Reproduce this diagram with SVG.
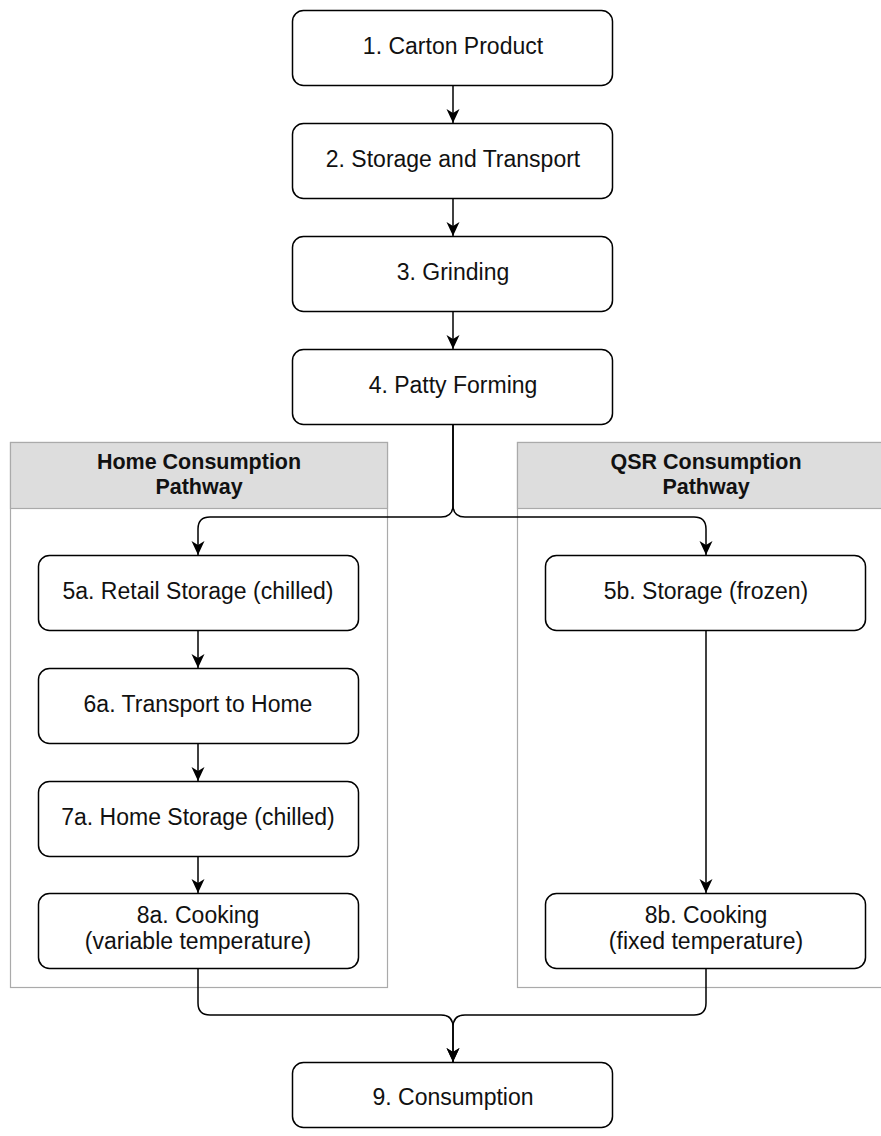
<svg xmlns="http://www.w3.org/2000/svg" width="881" height="1136" viewBox="0 0 881 1136">
<style>
.box{fill:#fff;stroke:#000;stroke-width:1.5}
.pool{fill:#fff;stroke:#aaa;stroke-width:1.2}
.hdr{fill:#dddddd;stroke:#aaa;stroke-width:1.2}
.t{font-family:"Liberation Sans",Arial,sans-serif;font-size:23px;fill:#111;text-anchor:middle}
.h{font-family:"Liberation Sans",Arial,sans-serif;font-size:21.5px;font-weight:bold;fill:#111;text-anchor:middle}
.c{fill:none;stroke:#000;stroke-width:1.5}
</style>
<defs>
<marker id="arr" markerUnits="userSpaceOnUse" markerWidth="16" markerHeight="16" viewBox="0 0 16 16" refX="14" refY="8" orient="auto">
<path d="M0,1.5 L14,8 L0,14.5 L4,8 z" fill="#000"/>
</marker>
</defs>
<g id="pool-home">
<rect class="pool" x="10.5" y="442.5" width="377" height="545"/>
<rect class="hdr" x="10.5" y="442.5" width="377" height="66"/>
<text class="h" x="199" y="469">Home Consumption</text>
<text class="h" x="199" y="494">Pathway</text>
</g>
<g id="pool-qsr">
<rect class="pool" x="517.5" y="442.5" width="380" height="545"/>
<rect class="hdr" x="517.5" y="442.5" width="380" height="66"/>
<text class="h" x="706" y="469">QSR Consumption</text>
<text class="h" x="706" y="494">Pathway</text>
</g>
<g id="connectors">
<path class="c" d="M453,85 L453,123" marker-end="url(#arr)"/>
<path class="c" d="M453,198 L453,236" marker-end="url(#arr)"/>
<path class="c" d="M453,311 L453,349" marker-end="url(#arr)"/>
<path class="c" d="M453,424 L453,505 Q453,517 441,517 L210,517 Q198,517 198,529 L198,555" marker-end="url(#arr)"/>
<path class="c" d="M453,424 L453,505 Q453,517 465,517 L694,517 Q706,517 706,529 L706,555" marker-end="url(#arr)"/>
<path class="c" d="M198,631 L198,668" marker-end="url(#arr)"/>
<path class="c" d="M198,744 L198,781" marker-end="url(#arr)"/>
<path class="c" d="M198,857 L198,893" marker-end="url(#arr)"/>
<path class="c" d="M706,631 L706,893" marker-end="url(#arr)"/>
<path class="c" d="M198,969 L198,1003 Q198,1015 210,1015 L441,1015 Q453,1015 453,1027 L453,1062" marker-end="url(#arr)"/>
<path class="c" d="M706,969 L706,1003 Q706,1015 694,1015 L465,1015 Q453,1015 453,1027 L453,1062" marker-end="url(#arr)"/>
</g>
<g id="n1"><rect class="box" x="292.5" y="10.5" width="320" height="75" rx="11"/><text class="t" x="453" y="54">1. Carton Product</text></g>
<g id="n2"><rect class="box" x="292.5" y="123.5" width="320" height="75" rx="11"/><text class="t" x="453" y="167">2. Storage and Transport</text></g>
<g id="n3"><rect class="box" x="292.5" y="236.5" width="320" height="75" rx="11"/><text class="t" x="453" y="280">3. Grinding</text></g>
<g id="n4"><rect class="box" x="292.5" y="349.5" width="320" height="75" rx="11"/><text class="t" x="453" y="393">4. Patty Forming</text></g>
<g id="n5a"><rect class="box" x="38.5" y="555.5" width="320" height="75" rx="11"/><text class="t" x="198" y="599">5a. Retail Storage (chilled)</text></g>
<g id="n6a"><rect class="box" x="38.5" y="668.5" width="320" height="75" rx="11"/><text class="t" x="198" y="712">6a. Transport to Home</text></g>
<g id="n7a"><rect class="box" x="38.5" y="781.5" width="320" height="75" rx="11"/><text class="t" x="198" y="825">7a. Home Storage (chilled)</text></g>
<g id="n8a"><rect class="box" x="38.5" y="893.5" width="320" height="75" rx="11"/><text class="t" x="198" y="923">8a. Cooking</text><text class="t" x="198" y="949">(variable temperature)</text></g>
<g id="n5b"><rect class="box" x="545.5" y="555.5" width="320" height="75" rx="11"/><text class="t" x="706" y="599">5b. Storage (frozen)</text></g>
<g id="n8b"><rect class="box" x="545.5" y="893.5" width="320" height="75" rx="11"/><text class="t" x="706" y="923">8b. Cooking</text><text class="t" x="706" y="949">(fixed temperature)</text></g>
<g id="n9"><rect class="box" x="292.5" y="1062.5" width="320" height="65" rx="11"/><text class="t" x="453" y="1105">9. Consumption</text></g>
</svg>
